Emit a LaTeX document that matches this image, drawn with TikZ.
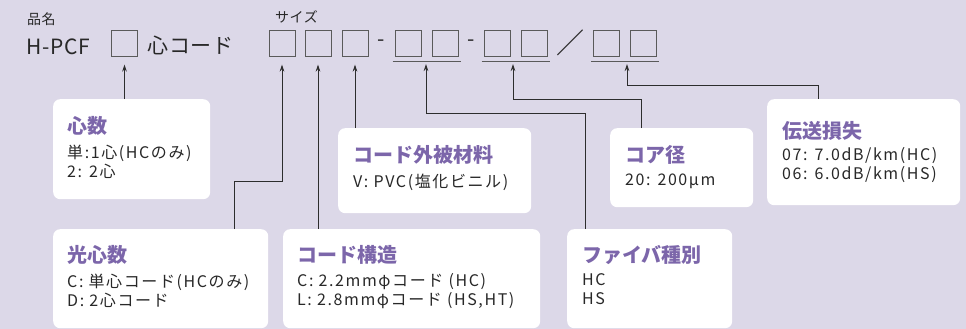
\documentclass[tikz,border=0pt]{standalone}
\usepackage{fontspec}
\setmainfont{Noto Sans CJK JP}
\newfontfamily\spacedfont{Noto Sans CJK JP}[LetterSpace=10]
\newfontfamily\rowfont{Noto Sans CJK JP}[LetterSpace=4]
\usetikzlibrary{arrows.meta, positioning}

\definecolor{bgLav}{RGB}{220,216,232}
\definecolor{ttlPurple}{RGB}{124,102,170}
\definecolor{lineGray}{RGB}{45,45,45}
\definecolor{sqGray}{RGB}{90,90,90}
\definecolor{txtGray}{RGB}{40,40,40}

\tikzset{
  sqbox/.style={draw=sqGray, line width=1pt, minimum size=26pt, inner sep=0pt},
  uline/.style={draw=sqGray, line width=1pt},
  infobox/.style={fill=white, rounded corners=7pt, anchor=north west, inner sep=0pt},
  conn/.style={draw=lineGray, line width=0.8pt, -{Stealth[length=7pt, width=4.5pt]}},
  ttl/.style={text=ttlPurple, font=\fontsize{20}{24}\selectfont\bfseries, anchor=north west, inner sep=0pt},
  body/.style={text=txtGray, font=\spacedfont\fontsize{16}{19}\selectfont, align=left, anchor=north west, inner sep=0pt},
  big/.style={text=txtGray, font=\rowfont\fontsize{21}{24}\selectfont, inner sep=0pt},
  small/.style={text=txtGray, font=\rowfont\fontsize{14}{16}\selectfont, inner sep=0pt}
}

\begin{document}
\begin{tikzpicture}[x=1pt, y=-1pt]
  % background
  \fill[bgLav] (0,0) rectangle (966,329);

  % part number row
  \node[small, anchor=north west] (hinmei) at (27,12) {品名};
  \node[small, anchor=north west] (saizu) at (275,10) {サイズ};
  \node[big, anchor=base west] (hpcf) at (26,55) {H-PCF};
  \node[sqbox] (sqCore) at (124.5,43.5) {};
  \node[big, anchor=base west] (cord) at (147,54) {心コード};
  \foreach \x/\n in {282/A, 318/B, 355/C, 408/D, 445/E, 497/F, 534/G, 606.5/H, 643.5/I}
    \node[sqbox] (sq\n) at (\x,43.5) {};
  \node[big] (dashA) at (381.5,43) {-};
  \node[big] (dashB) at (471,43) {-};
  \node[big, font=\fontsize{28}{30}\selectfont] (slash) at (570,43) {／};

  % underlines
  \draw[uline] ([xshift=-2pt, yshift=-4.5pt]sqD.south west) -- ([xshift=2pt, yshift=-4.5pt]sqE.south east);
  \draw[uline] ([xshift=-2pt, yshift=-4.5pt]sqF.south west) -- ([xshift=2pt, yshift=-4.5pt]sqG.south east);
  \draw[uline] ([xshift=-2pt, yshift=-4.5pt]sqH.south west) -- ([xshift=2pt, yshift=-4.5pt]sqI.south east);

  % arrow tips
  \coordinate (tipCore) at ([yshift=-7.5pt]sqCore.south);
  \coordinate (tipA) at ([yshift=-7.5pt]sqA.south);
  \coordinate (tipB) at ([yshift=-7.5pt]sqB.south);
  \coordinate (tipC) at ([yshift=-7.5pt]sqC.south);
  \coordinate (tipDE) at (426,64);
  \coordinate (tipFG) at (513,64);
  \coordinate (tipHI) at (627,64);

  % info boxes
  \node[infobox, minimum width=157pt, minimum height=100pt] (shinsuBox) at (53,99) {};
  \node[infobox, minimum width=215pt, minimum height=99pt] (hikariBox) at (53,229) {};
  \node[infobox, minimum width=257pt, minimum height=99pt] (kouzouBox) at (283,229) {};
  \node[infobox, minimum width=193pt, minimum height=85pt] (gaihiBox) at (338,128) {};
  \node[infobox, minimum width=165pt, minimum height=99pt] (fiberBox) at (567,229) {};
  \node[infobox, minimum width=143pt, minimum height=79pt] (coreBox) at (610,128) {};
  \node[infobox, minimum width=193pt, minimum height=106pt] (lossBox) at (767,99) {};

  % titles and contents
  \node[ttl] (shinsuTtl) at ([shift={(14,17)}]shinsuBox.north west) {心数};
  \node[body, below=9pt of shinsuTtl.south west, anchor=north west] (shinsuTxt) {単:1心(HCのみ)\\2: 2心};
  \node[ttl] (hikariTtl) at ([shift={(14,16)}]hikariBox.north west) {光心数};
  \node[body, below=9pt of hikariTtl.south west, anchor=north west] (hikariTxt) {C: 単心コード(HCのみ)\\D: 2心コード};
  \node[ttl] (kouzouTtl) at ([shift={(14,16)}]kouzouBox.north west) {コード構造};
  \node[body, below=9pt of kouzouTtl.south west, anchor=north west] (kouzouTxt) {C: 2.2mmφコード (HC)\\L: 2.8mmφコード (HS,HT)};
  \node[ttl] (gaihiTtl) at ([shift={(15,17)}]gaihiBox.north west) {コード外被材料};
  \node[body, below=9pt of gaihiTtl.south west, anchor=north west] (gaihiTxt) {V: PVC(塩化ビニル)};
  \node[ttl] (fiberTtl) at ([shift={(15,16)}]fiberBox.north west) {ファイバ種別};
  \node[body, below=9pt of fiberTtl.south west, anchor=north west] (fiberTxt) {HC\\HS};
  \node[ttl] (coreTtl) at ([shift={(15,17)}]coreBox.north west) {コア径};
  \node[body, below=9pt of coreTtl.south west, anchor=north west] (coreTxt) {20: 200μm};
  \node[ttl] (lossTtl) at ([shift={(15,22)}]lossBox.north west) {伝送損失};
  \node[body, below=7pt of lossTtl.south west, anchor=north west] (lossTxt) {07: 7.0dB/km(HC)\\06: 6.0dB/km(HS)};

  % connectors
  \draw[conn] (tipCore |- shinsuBox.north) -- (tipCore);
  \coordinate (bendA) at (234,181);
  \draw[conn] (bendA |- hikariBox.north) -- (bendA) -| (tipA);
  \draw[conn] (tipB |- kouzouBox.north) -- (tipB);
  \draw[conn] (tipC |- gaihiBox.north) -- (tipC);
  \coordinate (bendDE) at (585,113);
  \draw[conn] (bendDE |- fiberBox.north) -- (bendDE) -| (tipDE);
  \coordinate (bendFG) at (641,99);
  \draw[conn] (bendFG |- coreBox.north) -- (bendFG) -| (tipFG);
  \coordinate (bendHI) at (818,85);
  \draw[conn] (bendHI |- lossBox.north) -- (bendHI) -| (tipHI);
\end{tikzpicture}
\end{document}
